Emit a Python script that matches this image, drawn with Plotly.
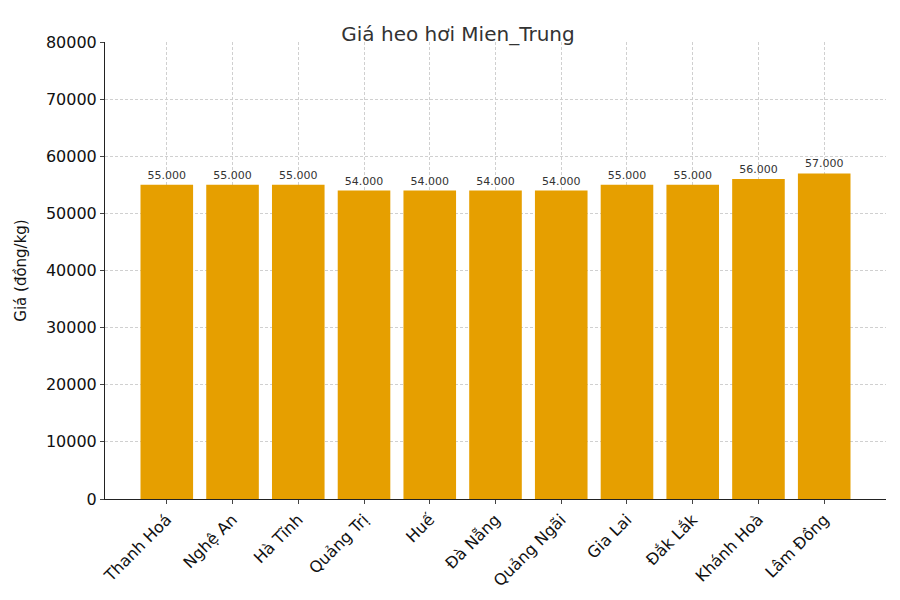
import plotly.graph_objects as go

provinces = ["Thanh Hoá", "Nghệ An", "Hà Tĩnh", "Quảng Trị", "Huế", "Đà Nẵng",
             "Quảng Ngãi", "Gia Lai", "Đắk Lắk", "Khánh Hoà", "Lâm Đồng"]
prices = [55000, 55000, 55000, 54000, 54000, 54000, 54000, 55000, 55000, 56000, 57000]
labels = [f"{v:,}".replace(",", ".") for v in prices]

fig = go.Figure(go.Bar(
    x=list(range(len(provinces))), y=prices, width=0.8,
    marker=dict(color="#E69F00", line=dict(width=0)),
    text=labels, textposition="outside",
    textfont=dict(size=11, color="#333333", family="DejaVu Sans"), cliponaxis=False))

fig.update_layout(
    width=900, height=600, plot_bgcolor="white", paper_bgcolor="white",
    margin=dict(l=90, r=22, t=34, b=109),
    font=dict(family="DejaVu Sans", color="#222222", size=15),
    title=dict(text="Giá heo hơi Mien_Trung", x=0.5, xanchor="center", y=0.957,
               yanchor="middle", font=dict(size=20, color="#333333")),
    showlegend=False)
fig.update_xaxes(tickmode="array", tickvals=list(range(len(provinces))), ticktext=provinces,
                 tickangle=-45, range=[-0.94, 10.94], showgrid=True, gridcolor="#d0d0d0",
                 griddash="3px,2px", gridwidth=0.7, ticks="outside", ticklen=4,
                 showline=True, linecolor="#222222", tickfont=dict(size=16, color="#111111"))
fig.update_yaxes(range=[0, 80000], dtick=10000, showgrid=True, gridcolor="#d0d0d0",
                 griddash="3px,2px", gridwidth=0.7, ticks="outside", ticklen=4,
                 showline=True, linecolor="#222222", tickformat="d", zeroline=False,
                 title=dict(text="Giá (đồng/kg)", font=dict(size=15, color="#111111")),
                 tickfont=dict(size=16, color="#111111"))
fig.write_html("out.html")
